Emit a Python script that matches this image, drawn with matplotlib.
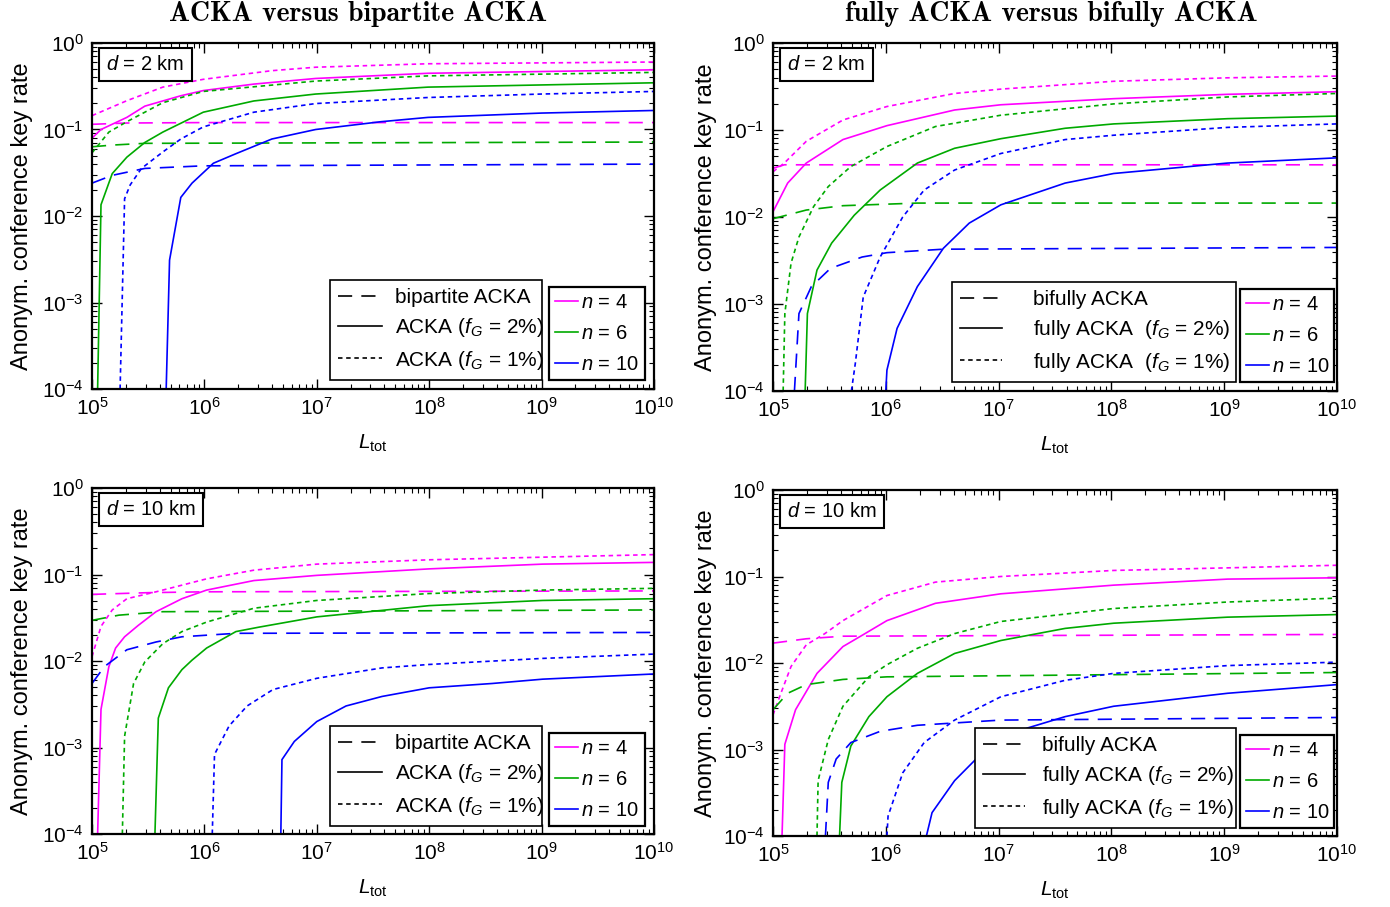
import numpy as np
import matplotlib
matplotlib.use('Agg')
import matplotlib.pyplot as plt
from matplotlib.lines import Line2D

plt.rcParams['font.family'] = ['Liberation Sans', 'DejaVu Sans']
plt.rcParams['mathtext.fontset'] = 'custom'
plt.rcParams['mathtext.rm'] = 'Liberation Sans'
plt.rcParams['mathtext.it'] = 'Liberation Sans:italic'

# values: log10(L_tot) and log10(rate)
# style keys: bi = bipartite / bifully (dashed), f2 = f_G 2% (solid), f1 = f_G 1% (dotted)

# --- top left: d = 2 km, ACKA vs bipartite ACKA ---
tl_n4_bi_x = [5, 5.31, 6, 10]
tl_n4_bi_y = [-0.94, -0.925, -0.92, -0.92]
tl_n4_f2_x = [5, 5.08, 5.31, 5.47, 5.79, 5.99, 6.44, 6.99, 7.99, 10]
tl_n4_f2_y = [-1.10, -1.0, -0.86, -0.73, -0.61, -0.55, -0.475, -0.41, -0.35, -0.31]
tl_n4_f1_x = [5, 5.31, 5.63, 5.99, 6.6, 6.99, 7.99, 10]
tl_n4_f1_y = [-0.84, -0.667, -0.51, -0.42, -0.32, -0.28, -0.24, -0.22]
tl_n6_bi_x = [5, 5.18, 5.47, 10]
tl_n6_bi_y = [-1.20, -1.18, -1.16, -1.145]
tl_n6_f2_x = [5.05, 5.08, 5.18, 5.31, 5.47, 5.63, 5.99, 6.44, 6.99, 7.99, 10]
tl_n6_f2_y = [-4, -1.87, -1.51, -1.32, -1.15, -1.03, -0.80, -0.67, -0.59, -0.51, -0.46]
tl_n6_f1_x = [5, 5.15, 5.31, 5.63, 5.99, 6.99, 7.99, 10]
tl_n6_f1_y = [-1.27, -1.03, -0.91, -0.69, -0.56, -0.44, -0.38, -0.34]
tl_n10_bi_x = [5, 5.18, 5.47, 5.99, 10]
tl_n10_bi_y = [-1.62, -1.53, -1.45, -1.42, -1.40]
tl_n10_f2_x = [5.66, 5.69, 5.79, 5.89, 6.08, 6.28, 6.60, 6.99, 7.57, 7.99, 9.0, 10]
tl_n10_f2_y = [-4, -2.51, -1.785, -1.62, -1.39, -1.28, -1.11, -1.0, -0.91, -0.86, -0.81, -0.78]
tl_n10_f1_x = [5.25, 5.29, 5.34, 5.44, 5.63, 5.79, 5.99, 6.44, 6.99, 7.99, 9.0, 10]
tl_n10_f1_y = [-4, -1.80, -1.64, -1.45, -1.26, -1.11, -0.97, -0.80, -0.70, -0.63, -0.59, -0.56]

# --- top right: d = 2 km, fully ACKA vs bifully ACKA ---
tr_n4_bi_x = [5, 5.1, 10]
tr_n4_bi_y = [-1.44, -1.40, -1.40]
tr_n4_f2_x = [5, 5.13, 5.295, 5.62, 6.01, 6.61, 7.02, 8.02, 9.03, 10]
tr_n4_f2_y = [-1.94, -1.61, -1.38, -1.11, -0.95, -0.77, -0.71, -0.64, -0.59, -0.56]
tr_n4_f1_x = [5, 5.1, 5.295, 5.62, 6.01, 6.61, 7.02, 8.02, 9.03, 10]
tr_n4_f1_y = [-1.48, -1.38, -1.13, -0.885, -0.73, -0.58, -0.53, -0.44, -0.40, -0.38]
tr_n6_bi_x = [5, 5.295, 5.62, 6.28, 10]
tr_n6_bi_y = [-2.02, -1.92, -1.87, -1.84, -1.84]
tr_n6_f2_x = [5.285, 5.305, 5.39, 5.52, 5.72, 5.95, 6.28, 6.61, 7.02, 7.59, 8.02, 9.03, 10]
tr_n6_f2_y = [-4, -3.11, -2.61, -2.30, -1.98, -1.69, -1.38, -1.21, -1.10, -0.98, -0.93, -0.87, -0.84]
tr_n6_f1_x = [5.09, 5.105, 5.16, 5.23, 5.36, 5.49, 5.69, 6.01, 6.44, 7.02, 8.02, 9.03, 10]
tr_n6_f1_y = [-4, -3.11, -2.53, -2.23, -1.88, -1.65, -1.42, -1.19, -0.96, -0.83, -0.70, -0.62, -0.58]
tr_n10_bi_x = [5.19, 5.23, 5.34, 5.51, 5.79, 6.01, 6.51, 10]
tr_n10_bi_y = [-4, -3.11, -2.80, -2.59, -2.46, -2.41, -2.37, -2.35]
tr_n10_f2_x = [6.0, 6.01, 6.10, 6.28, 6.51, 6.74, 7.02, 7.59, 8.02, 9.03, 10]
tr_n10_f2_y = [-4, -3.76, -3.28, -2.80, -2.36, -2.07, -1.86, -1.61, -1.50, -1.38, -1.32]
tr_n10_f1_x = [5.695, 5.73, 5.80, 5.95, 6.15, 6.34, 6.61, 7.02, 7.59, 8.02, 9.03, 10]
tr_n10_f1_y = [-4, -3.68, -2.92, -2.46, -2.0, -1.69, -1.46, -1.27, -1.11, -1.06, -0.97, -0.93]

# --- bottom left: d = 10 km, ACKA vs bipartite ACKA ---
bl_n4_bi_x = [5, 5.5, 6, 10]
bl_n4_bi_y = [-1.23, -1.21, -1.20, -1.19]
bl_n4_f2_x = [5.05, 5.08, 5.15, 5.21, 5.29, 5.41, 5.57, 5.80, 6.02, 6.44, 7.0, 8.0, 9.01, 10]
bl_n4_f2_y = [-4, -2.56, -2.065, -1.85, -1.72, -1.59, -1.43, -1.28, -1.18, -1.07, -1.01, -0.935, -0.88, -0.86]
bl_n4_f1_x = [5, 5.08, 5.18, 5.31, 5.57, 6.02, 6.44, 7.0, 8.0, 10]
bl_n4_f1_y = [-1.95, -1.60, -1.41, -1.28, -1.20, -1.05, -0.95, -0.88, -0.83, -0.77]
bl_n6_bi_x = [5, 5.24, 5.63, 10]
bl_n6_bi_y = [-1.53, -1.47, -1.43, -1.41]
bl_n6_f2_x = [5.56, 5.59, 5.68, 5.80, 5.89, 6.02, 6.28, 6.48, 7.0, 8.0, 9.01, 10]
bl_n6_f2_y = [-4, -2.66, -2.31, -2.10, -1.99, -1.85, -1.66, -1.61, -1.49, -1.36, -1.30, -1.28]
bl_n6_f1_x = [5.27, 5.29, 5.37, 5.47, 5.63, 5.80, 6.02, 6.44, 7.0, 8.0, 9.01, 10]
bl_n6_f1_y = [-4, -2.87, -2.26, -2.01, -1.80, -1.66, -1.55, -1.39, -1.30, -1.22, -1.18, -1.16]
bl_n10_bi_x = [5, 5.11, 5.31, 5.57, 5.80, 6.28, 10]
bl_n10_bi_y = [-2.26, -2.065, -1.87, -1.78, -1.72, -1.68, -1.67]
bl_n10_f2_x = [6.68, 6.69, 6.80, 7.0, 7.26, 7.58, 8.0, 8.56, 9.01, 10]
bl_n10_f2_y = [-4, -3.14, -2.93, -2.70, -2.52, -2.41, -2.31, -2.26, -2.21, -2.15]
bl_n10_f1_x = [6.07, 6.09, 6.22, 6.38, 6.61, 7.0, 7.58, 8.0, 9.01, 10]
bl_n10_f1_y = [-4, -3.08, -2.75, -2.52, -2.33, -2.20, -2.08, -2.04, -1.97, -1.92]

# --- bottom right: d = 10 km, fully ACKA vs bifully ACKA ---
br_n4_bi_x = [5, 5.295, 5.62, 10]
br_n4_bi_y = [-1.77, -1.72, -1.69, -1.67]
br_n4_f2_x = [5.08, 5.105, 5.20, 5.39, 5.62, 5.79, 6.01, 6.44, 7.02, 8.02, 9.03, 10]
br_n4_f2_y = [-4, -2.94, -2.54, -2.12, -1.81, -1.68, -1.51, -1.31, -1.20, -1.10, -1.03, -1.015]
br_n4_f1_x = [5, 5.07, 5.16, 5.295, 5.46, 5.62, 6.01, 6.44, 7.02, 8.02, 9.03, 10]
br_n4_f1_y = [-2.60, -2.35, -2.04, -1.79, -1.66, -1.51, -1.22, -1.065, -1.0, -0.93, -0.90, -0.87]
br_n6_bi_x = [5, 5.13, 5.295, 5.62, 6.01, 10]
br_n6_bi_y = [-2.54, -2.35, -2.25, -2.19, -2.16, -2.11]
br_n6_f2_x = [5.59, 5.61, 5.69, 5.85, 6.01, 6.28, 6.61, 7.02, 7.59, 8.02, 9.03, 10]
br_n6_f2_y = [-4, -3.38, -2.96, -2.62, -2.39, -2.12, -1.89, -1.74, -1.60, -1.54, -1.47, -1.44]
br_n6_f1_x = [5.39, 5.40, 5.49, 5.62, 5.85, 6.01, 6.28, 6.61, 7.02, 8.02, 9.03, 10]
br_n6_f1_y = [-4, -3.36, -2.885, -2.50, -2.16, -2.02, -1.83, -1.66, -1.52, -1.37, -1.295, -1.25]
br_n10_bi_x = [5.465, 5.49, 5.56, 5.69, 5.95, 6.28, 7.02, 10]
br_n10_bi_y = [-4, -3.38, -3.11, -2.92, -2.79, -2.72, -2.66, -2.63]
br_n10_f2_x = [6.36, 6.41, 6.61, 6.80, 7.02, 7.26, 7.59, 8.02, 9.03, 10]
br_n10_f2_y = [-4, -3.73, -3.36, -3.11, -2.885, -2.75, -2.62, -2.50, -2.35, -2.25]
br_n10_f1_x = [6.01, 6.02, 6.15, 6.34, 6.61, 7.02, 7.59, 8.02, 9.03, 10]
br_n10_f1_y = [-4, -3.77, -3.27, -2.92, -2.66, -2.39, -2.20, -2.12, -2.03, -1.99]

titles = ['ACKA versus bipartite ACKA', 'fully ACKA versus bifully ACKA']
dist_labels = ['$d$ = 2 km', '$d$ = 2 km', '$d$ = 10 km', '$d$ = 10 km']
n_labels = ['$n$ = 4', '$n$ = 6', '$n$ = 10']
style_labels = [
    ['bipartite ACKA', 'ACKA ($f_G$ = 2%)', 'ACKA ($f_G$ = 1%)'],
    ['bifully ACKA', 'fully ACKA  ($f_G$ = 2%)', 'fully ACKA  ($f_G$ = 1%)'],
    ['bipartite ACKA', 'ACKA ($f_G$ = 2%)', 'ACKA ($f_G$ = 1%)'],
    ['bifully ACKA', 'fully ACKA ($f_G$ = 2%)', 'fully ACKA ($f_G$ = 1%)'],
]

colors = ['#ff00ff', '#00aa00', '#0000ff']
dash_ls = (0, (8.5, 5.5))
dot_ls = (0, (2.7, 2.2))
lstyles = {'bi': dash_ls, 'f2': '-', 'f1': dot_ls}
LW = 1.2

g = globals()
fig = plt.figure(figsize=(13.9, 9.07), dpi=100)
# axes rectangles in pixels: left, right, top, bottom
rects = [(92, 654, 43, 389), (773, 1337, 43, 391), (92, 654, 488, 834), (773, 1337, 490, 836)]
# legend boxes (pixels): left box x0, x1, right box x0, x1, bottom y
leg_px = [(330, 542, 549, 645, 380), (952, 1236, 1240, 1334, 382),
          (330, 542, 549, 645, 826), (975, 1236, 1240, 1334, 828)]
# handle length / text pad of the style legend
leg_fmt = [(2.1, 0.6), (2.0, 1.5), (2.1, 0.6), (2.0, 0.8)]
ylab_x = [33, 717, 33, 717]
prefixes = ['tl', 'tr', 'bl', 'br']
W, H = 1390, 907

for k, pre in enumerate(prefixes):
    l, r, t, b = rects[k]
    ax = fig.add_axes([l / W, 1 - b / H, (r - l) / W, (b - t) / H])
    for c, n in zip(colors, ['n4', 'n6', 'n10']):
        for s in ['bi', 'f2', 'f1']:
            xs = np.array(g[f'{pre}_{n}_{s}_x'])
            ys = np.array(g[f'{pre}_{n}_{s}_y'])
            ax.plot(10 ** xs, 10 ** ys, color=c, ls=lstyles[s], lw=LW)
    ax.set_xscale('log')
    ax.set_yscale('log')
    ax.set_xlim(1e5, 1e10)
    ax.set_ylim(1e-4, 1)
    ax.tick_params(which='both', direction='in', top=True, right=True, labelsize=15)
    ax.tick_params(which='major', length=7, width=1, pad=6)
    ax.tick_params(which='minor', length=3.5, width=0.8)
    for sp in ax.spines.values():
        sp.set_linewidth(1.6)
    ax.set_xlabel(r'$L_{\mathrm{tot}}$', fontsize=15)
    ax.xaxis.set_label_coords(0.5, -44 / (b - t))
    ax.set_ylabel('Anonym. conference key rate', fontsize=17)
    ax.yaxis.set_label_coords(-(l - ylab_x[k]) / (r - l), 0.5)

    ax.text(0.025, 0.965, dist_labels[k], transform=ax.transAxes, fontsize=14.5,
            ha='left', va='top',
            bbox=dict(boxstyle='square,pad=0.36', fc='white', ec='black', lw=1.5))

    lx0, lx1, rx0, rx1, ly = leg_px[k]
    y0 = (b - ly) / (b - t)
    hl, tp = leg_fmt[k]
    h1 = [Line2D([], [], color='k', lw=LW, ls=lstyles[s]) for s in ['bi', 'f2', 'f1']]
    leg1 = ax.legend(h1, style_labels[k], loc='lower left',
                     bbox_to_anchor=((lx0 - l) / (r - l), y0, (lx1 - lx0) / (r - l), 0.3),
                     mode='expand', borderaxespad=0, fontsize=15, handlelength=hl,
                     handletextpad=tp, labelspacing=0.45, borderpad=0.4,
                     fancybox=False, edgecolor='k', framealpha=1)
    leg1.get_frame().set_linewidth(1.2)
    ax.add_artist(leg1)
    h2 = [Line2D([], [], color=c, lw=LW) for c in colors]
    leg2 = ax.legend(h2, n_labels, loc='lower left',
                     bbox_to_anchor=((rx0 - l) / (r - l), y0, (rx1 - rx0) / (r - l), 0.3),
                     mode='expand', borderaxespad=0, fontsize=14.5, handlelength=1.15,
                     handletextpad=0.15, labelspacing=0.6, borderpad=0.3,
                     fancybox=False, edgecolor='k', framealpha=1)
    leg2.get_frame().set_linewidth(1.6)

fig.text(358 / W, 1 - 14 / H, titles[0], fontfamily='cmb10', fontsize=20,
         ha='center', va='center')
fig.text(1051 / W, 1 - 14 / H, titles[1], fontfamily='cmb10', fontsize=20,
         ha='center', va='center')

fig.savefig('out.png', dpi=100)
